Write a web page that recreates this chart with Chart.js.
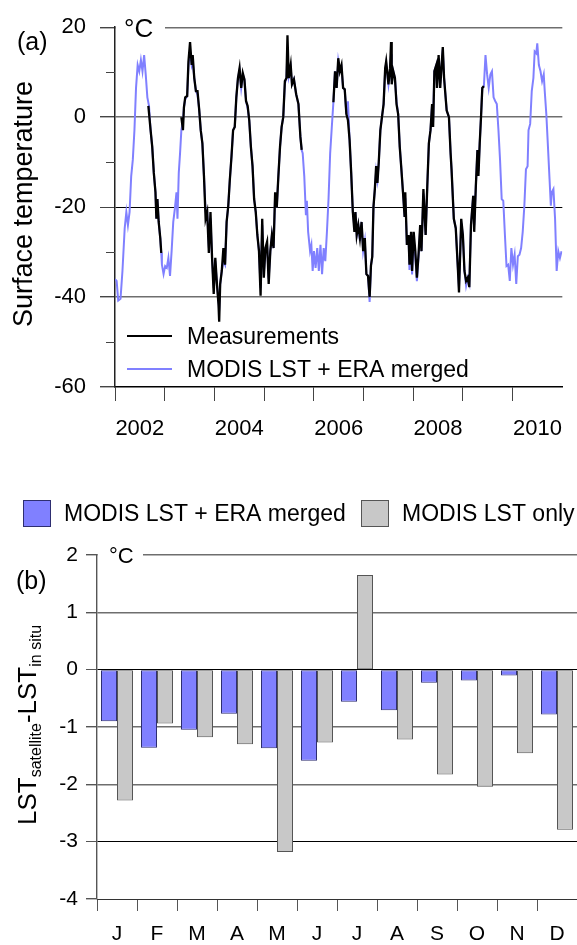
<!DOCTYPE html>
<html>
<head>
<meta charset="utf-8">
<script src="https://cdn.jsdelivr.net/npm/chart.js@4.4.1/dist/chart.umd.min.js"></script>
<style>
  body { margin: 0; background: #fff; }
  canvas { position: absolute; left: 0; }
  #tsChart { top: 0; }
  #barChart { top: 460px; }
</style>
</head>
<body>
<canvas id="tsChart" width="577" height="460"></canvas>
<canvas id="barChart" width="577" height="485"></canvas>
<script>
/* ── (a) surface temperature series, [decimal year, °C] ── */
const measured = [
  [2002.671, 2.5], [2002.716, -2.9], [2002.749, -6.6], [2002.781, -12.4], [2002.814, -16.7],
  [2002.833, -22.6], [2002.853, -18.2], [2002.879, -23.3], [2002.911, -26.9], [2002.931, -30.2],
  [2003.1, null],
  [2003.335, 0.0], [2003.367, -2.9], [2003.387, 2.2], [2003.413, 4.4], [2003.452, 4.7],
  [2003.478, 12.4], [2003.510, 16.7], [2003.543, 11.6], [2003.563, 13.8], [2003.595, 8.7],
  [2003.628, 5.8], [2003.660, 5.8], [2003.693, 1.8], [2003.725, -2.9], [2003.758, -5.8],
  [2003.790, -13.1], [2003.823, -22.6], [2003.855, -21.1], [2003.888, -30.2], [2003.921, -21.1],
  [2003.953, -31.3], [2003.986, -39.3], [2004.018, -31.3], [2004.051, -37.1], [2004.083, -41.8],
  [2004.096, -45.5], [2004.116, -37.1], [2004.148, -34.2], [2004.181, -29.1], [2004.214, -32.8],
  [2004.246, -23.3], [2004.279, -19.7], [2004.311, -13.8], [2004.344, -8.7], [2004.376, -2.9],
  [2004.409, -2.2], [2004.441, 4.4], [2004.474, 8.7], [2004.506, 10.9], [2004.539, 6.5],
  [2004.571, 9.8], [2004.604, 8.4], [2004.636, 3.6], [2004.669, 2.5], [2004.701, -0.7],
  [2004.734, -6.6], [2004.767, -10.9], [2004.799, -18.2], [2004.832, -21.1], [2004.864, -26.2],
  [2004.897, -29.8], [2004.929, -39.7], [2004.962, -22.6], [2004.994, -35.7], [2005.027, -29.1],
  [2005.060, -27.7], [2005.092, -37.1], [2005.125, -29.8], [2005.157, -26.2], [2005.190, -29.1],
  [2005.222, -16.7], [2005.255, -20.0], [2005.287, -13.1], [2005.320, -6.6], [2005.352, -2.2],
  [2005.385, 0.0], [2005.418, 8.0], [2005.450, 8.7], [2005.470, 18.2], [2005.496, 8.7],
  [2005.535, 11.6], [2005.561, 7.3], [2005.600, 8.4], [2005.645, 5.1], [2005.691, 2.9],
  [2005.730, -4.4], [2005.756, -7.3],
  [2006.05, null],
  [2006.394, 3.3], [2006.427, 10.2], [2006.459, 6.5], [2006.492, 13.1], [2006.524, 10.2],
  [2006.557, 11.6], [2006.589, 6.5], [2006.622, 6.2], [2006.655, 0.7], [2006.687, -0.7],
  [2006.720, -5.1], [2006.752, -12.4], [2006.785, -21.1], [2006.817, -25.5], [2006.837, -21.1],
  [2006.863, -26.2], [2006.895, -24.0], [2006.928, -26.9], [2006.961, -23.3], [2006.993, -29.8],
  [2007.026, -26.9], [2007.058, -34.9], [2007.091, -35.3], [2007.123, -40.0], [2007.150, -33.0],
  [2007.176, -31.0], [2007.200, -20.0], [2007.228, -16.0], [2007.254, -10.9], [2007.280, -14.6],
  [2007.306, -10.2], [2007.339, -2.9], [2007.371, 0.0], [2007.404, 2.9], [2007.436, 10.9],
  [2007.456, 12.4], [2007.502, 7.3], [2007.534, 10.9], [2007.554, 16.7], [2007.567, 7.3],
  [2007.599, 10.2], [2007.632, 8.7], [2007.664, 2.9], [2007.697, 0.7], [2007.729, -6.6],
  [2007.762, -11.6], [2007.794, -16.7], [2007.827, -22.2], [2007.840, -16.7], [2007.873, -28.4],
  [2007.905, -26.2], [2007.925, -32.8], [2007.957, -25.5], [2007.977, -34.2], [2008.009, -25.5],
  [2008.042, -29.8], [2008.074, -35.7], [2008.107, -30.5], [2008.140, -24.0], [2008.166, -29.8],
  [2008.205, -16.0], [2008.250, -26.2], [2008.283, -15.3], [2008.315, -5.8], [2008.348, -2.9],
  [2008.380, 2.9], [2008.400, -2.2], [2008.426, 10.2], [2008.465, 11.6], [2008.478, 6.5],
  [2008.511, 13.8], [2008.543, 6.5], [2008.595, 15.6], [2008.621, 8.7], [2008.673, 1.5],
  [2008.719, 0.0], [2008.752, -8.0], [2008.771, -11.6], [2008.817, -22.6], [2008.856, -24.7],
  [2008.901, -34.2], [2008.921, -39.0], [2008.966, -22.6], [2008.999, -26.2], [2009.031, -34.2],
  [2009.064, -36.4], [2009.097, -35.7], [2009.129, -37.8], [2009.162, -24.0], [2009.207, -17.5],
  [2009.227, -25.5], [2009.260, -15.3], [2009.292, -7.3], [2009.312, -13.1], [2009.338, -5.8],
  [2009.364, 0.0], [2009.390, 6.5], [2009.422, 6.9]
];

const merged = [
  [2002.000, -36.0], [2002.033, -36.4], [2002.065, -40.8], [2002.111, -40.4], [2002.150, -34.2],
  [2002.195, -24.7], [2002.228, -21.1], [2002.260, -24.0], [2002.293, -21.1], [2002.326, -13.1],
  [2002.358, -9.5], [2002.391, -2.9], [2002.423, 6.5], [2002.456, 11.6], [2002.488, 10.2],
  [2002.521, 12.7], [2002.553, 10.2], [2002.586, 13.8], [2002.618, 9.5], [2002.651, 4.4],
  [2002.684, 2.5], [2002.716, -2.9], [2002.749, -6.6], [2002.781, -12.4], [2002.814, -16.7],
  [2002.833, -22.6], [2002.853, -18.2], [2002.879, -23.3], [2002.911, -26.9], [2002.931, -30.2],
  [2002.944, -32.8], [2002.977, -34.9], [2003.009, -33.1], [2003.042, -33.5], [2003.074, -31.3],
  [2003.107, -35.3], [2003.139, -29.8], [2003.172, -23.3], [2003.204, -20.4], [2003.237, -16.7],
  [2003.257, -22.6], [2003.283, -12.4], [2003.309, -8.0], [2003.335, -2.9],
  [2003.367, -1.0], [2003.387, 2.2], [2003.413, 4.0], [2003.452, 4.7], [2003.478, 11.5],
  [2003.510, 14.5], [2003.543, 11.6], [2003.563, 12.5], [2003.595, 8.7], [2003.628, 5.8],
  [2003.660, 5.0], [2003.693, 1.8], [2003.725, -2.9], [2003.758, -5.8], [2003.790, -13.1],
  [2003.823, -21.0], [2003.855, -21.1], [2003.888, -29.0], [2003.921, -22.5], [2003.953, -31.3],
  [2003.986, -38.0], [2004.018, -32.0], [2004.051, -37.1], [2004.083, -41.0], [2004.096, -43.0],
  [2004.116, -37.1], [2004.148, -34.2], [2004.181, -32.0], [2004.214, -32.8], [2004.246, -23.3],
  [2004.279, -19.7], [2004.311, -13.8], [2004.344, -8.7], [2004.376, -2.9], [2004.409, -2.2],
  [2004.441, 4.4], [2004.474, 8.7], [2004.506, 10.5], [2004.539, 6.5], [2004.571, 9.5],
  [2004.604, 8.4], [2004.636, 3.6], [2004.669, 2.0], [2004.701, -0.7], [2004.734, -6.6],
  [2004.767, -10.9], [2004.799, -18.2], [2004.832, -21.1], [2004.864, -26.2], [2004.897, -29.8],
  [2004.929, -38.0], [2004.962, -24.0], [2004.994, -35.0], [2005.027, -29.1], [2005.060, -28.5],
  [2005.092, -36.0], [2005.125, -29.8], [2005.157, -26.2], [2005.190, -29.1], [2005.222, -17.5],
  [2005.255, -20.0], [2005.287, -13.1], [2005.320, -6.6], [2005.352, -2.2], [2005.385, 0.0],
  [2005.418, 7.5], [2005.450, 8.7], [2005.470, 15.0], [2005.496, 9.0], [2005.535, 11.0],
  [2005.561, 7.3], [2005.600, 8.4], [2005.645, 5.1], [2005.691, 2.9], [2005.730, -4.4],
  [2005.756, -7.3], [2005.776, -8.0], [2005.808, -13.1], [2005.841, -21.8], [2005.860, -18.6],
  [2005.886, -25.5], [2005.925, -29.8], [2005.951, -28.4], [2005.977, -34.2], [2006.003, -29.8],
  [2006.036, -33.5], [2006.069, -29.1], [2006.101, -34.2], [2006.134, -28.4], [2006.166, -34.9],
  [2006.199, -29.1], [2006.231, -32.0], [2006.264, -25.5], [2006.296, -18.2], [2006.329, -8.0],
  [2006.362, -2.2], [2006.394, 3.3],
  [2006.427, 10.2], [2006.459, 6.5], [2006.492, 12.5], [2006.524, 10.2], [2006.557, 11.0],
  [2006.589, 6.5], [2006.622, 6.2], [2006.655, 0.7], [2006.687, 3.5], [2006.720, -5.1],
  [2006.752, -12.4], [2006.785, -21.1], [2006.817, -24.5], [2006.837, -21.1], [2006.863, -26.2],
  [2006.895, -24.0], [2006.928, -27.5], [2006.961, -23.3], [2006.993, -29.8], [2007.026, -27.5],
  [2007.058, -34.9], [2007.091, -35.3], [2007.123, -41.1], [2007.150, -33.0], [2007.176, -31.0],
  [2007.200, -20.0], [2007.228, -16.0], [2007.254, -12.0], [2007.280, -14.0], [2007.306, -10.2],
  [2007.339, -2.9], [2007.371, 0.0], [2007.404, 2.9], [2007.436, 10.5], [2007.456, 12.0],
  [2007.502, 7.3], [2007.534, 10.5], [2007.554, 14.0], [2007.567, 8.0], [2007.599, 10.2],
  [2007.632, 8.7], [2007.664, 3.5], [2007.697, 0.7], [2007.729, -6.6], [2007.762, -11.6],
  [2007.794, -16.7], [2007.827, -22.2], [2007.840, -18.0], [2007.873, -28.4], [2007.905, -26.2],
  [2007.925, -34.0], [2007.957, -27.0], [2007.977, -35.0], [2008.009, -27.0], [2008.042, -31.0],
  [2008.074, -36.5], [2008.107, -31.0], [2008.140, -25.0], [2008.166, -29.8], [2008.205, -17.0],
  [2008.250, -26.2], [2008.283, -15.3], [2008.315, -5.8], [2008.348, -2.9], [2008.380, 2.9],
  [2008.400, -1.0], [2008.426, 10.2], [2008.465, 11.6], [2008.478, 7.5], [2008.511, 13.0],
  [2008.543, 7.5], [2008.595, 15.0], [2008.621, 8.7], [2008.673, 1.5], [2008.719, 0.0],
  [2008.752, -8.0], [2008.771, -11.6], [2008.817, -22.6], [2008.856, -24.7], [2008.901, -34.2],
  [2008.921, -38.0], [2008.966, -23.5], [2008.999, -26.2], [2009.031, -34.2], [2009.064, -37.5],
  [2009.097, -35.7], [2009.129, -37.0], [2009.162, -24.0], [2009.207, -17.5], [2009.227, -24.0],
  [2009.260, -15.3], [2009.292, -7.3], [2009.312, -12.0], [2009.338, -5.8], [2009.364, 0.0],
  [2009.390, 6.5], [2009.422, 6.9],
  [2009.454, 13.8], [2009.487, 9.5], [2009.519, 6.5], [2009.552, 9.5], [2009.584, 10.2],
  [2009.617, 4.4], [2009.649, 3.6], [2009.682, 2.9], [2009.715, -2.9], [2009.747, -9.5],
  [2009.780, -18.2], [2009.812, -18.6], [2009.845, -26.2], [2009.877, -33.1], [2009.910, -32.8],
  [2009.943, -36.4], [2009.975, -29.1], [2010.008, -32.8], [2010.040, -30.6], [2010.073, -37.1],
  [2010.105, -30.9], [2010.138, -30.6], [2010.171, -29.1], [2010.203, -25.5], [2010.236, -19.7],
  [2010.268, -11.6], [2010.301, -10.9], [2010.320, -2.9], [2010.353, -1.5], [2010.385, 5.8],
  [2010.418, 8.7], [2010.444, 14.6], [2010.476, 14.2], [2010.496, 16.4], [2010.528, 11.6],
  [2010.561, 10.2], [2010.593, 8.0], [2010.626, 9.5], [2010.646, 5.8], [2010.678, 0.7],
  [2010.711, -6.6], [2010.743, -13.8], [2010.769, -19.7], [2010.789, -16.7], [2010.821, -16.0],
  [2010.854, -22.6], [2010.886, -34.2], [2010.919, -29.8], [2010.952, -31.3], [2010.984, -29.8]
];

// tick marks at each new year, labels centred in every other year
const yearTicks = [2002, 2003, 2004, 2005, 2006, 2007, 2008, 2009, 2010];
const yearLabelPos = [2002.5, 2004.5, 2006.5, 2008.5, 2010.5];
const tempMinorTicks = [10, -10, -30, -50];

/* ── (b) monthly bias, °C ── */
const months = ['J', 'F', 'M', 'A', 'M', 'J', 'J', 'A', 'S', 'O', 'N', 'D'];
const mergedBias = [-0.90, -1.36, -1.05, -0.77, -1.37, -1.59, -0.56, -0.71, -0.23, -0.19, -0.10, -0.78];
const lstOnlyBias = [-2.28, -0.94, -1.18, -1.30, -3.18, -1.27, 1.65, -1.22, -1.83, -2.04, -1.46, -2.79];

const FONT = "'Liberation Sans', Arial, sans-serif";
Chart.defaults.font.family = FONT;
Chart.defaults.color = '#000';

const GRID_GREY = '#6e6e6e';

const tsDecor = {
  id: 'tsDecor',
  afterDraw(chart) {
    const { ctx, scales: { x, y } } = chart;
    ctx.save();
    // short ticks between the labelled ones
    ctx.strokeStyle = '#444';
    ctx.lineWidth = 1;
    tempMinorTicks.forEach(v => {
      const py = Math.round(y.getPixelForValue(v)) + 0.5;
      ctx.beginPath();
      ctx.moveTo(x.left - 9, py);
      ctx.lineTo(x.left, py);
      ctx.stroke();
    });
    // unit label sits in a gap of the top grid line
    const top = y.getPixelForValue(20);
    ctx.fillStyle = '#fff';
    ctx.fillRect(x.left + 1, top - 3, 49, 6);
    ctx.fillStyle = '#000';
    ctx.textAlign = 'left';
    ctx.textBaseline = 'alphabetic';
    ctx.font = `26px ${FONT}`;
    ctx.fillText('°C', x.left + 9, top + 9.5);
    ctx.font = `25px ${FONT}`;
    ctx.fillText('(a)', 17, 50);

    // legend inside the plot
    const items = [chart.data.datasets[0], chart.data.datasets[1]];
    ctx.font = `23px ${FONT}`;
    items.forEach((ds, i) => {
      const ly = 336 + i * 33;
      ctx.strokeStyle = ds.borderColor;
      ctx.lineWidth = 2;
      ctx.beginPath();
      ctx.moveTo(127, ly);
      ctx.lineTo(172, ly);
      ctx.stroke();
      ctx.fillText(ds.label, 187, ly + 8);
    });

    ctx.translate(32, 204);
    ctx.rotate(-Math.PI / 2);
    ctx.textAlign = 'center';
    ctx.font = `27px ${FONT}`;
    ctx.fillText('Surface temperature', 0, 0);
    ctx.restore();
  }
};

new Chart(document.getElementById('tsChart'), {
  type: 'line',
  data: {
    datasets: [
      {
        label: 'Measurements',
        data: measured.map(([x, y]) => ({ x, y })),
        borderColor: '#000',
        borderWidth: 2.3,
        pointRadius: 0,
        tension: 0,
        spanGaps: false,
      },
      {
        label: 'MODIS LST + ERA merged',
        data: merged.map(([x, y]) => ({ x, y })),
        borderColor: '#8080ff',
        borderWidth: 2,
        pointRadius: 0,
        tension: 0,
      },
    ],
  },
  options: {
    responsive: false,
    animation: false,
    layout: { padding: { top: 20, right: 1, left: 0, bottom: 0 } },
    plugins: { legend: { display: false }, tooltip: { enabled: false } },
    scales: {
      x: {
        type: 'linear',
        min: 2002,
        max: 2011,
        afterBuildTicks: s => {
          s.ticks = [...yearTicks, ...yearLabelPos].sort((a, b) => a - b).map(v => ({ value: v }));
        },
        afterFit: s => { s.height = 73; },
        grid: {
          drawOnChartArea: false,
          tickLength: 14,
          tickWidth: 1,
          tickColor: c => (Number.isInteger(c.tick.value) ? '#444' : 'rgba(0,0,0,0)'),
        },
        border: { color: '#000', width: 1.5 },
        ticks: {
          font: { size: 22 },
          padding: 15,
          autoSkip: false,
          maxRotation: 0,
          callback: v => (yearLabelPos.includes(v) ? String(Math.floor(v)) : ''),
        },
      },
      y: {
        min: -60,
        max: 20,
        afterFit: s => { s.width = 115; },
        ticks: { stepSize: 20, font: { size: 22 }, padding: 14 },
        grid: {
          tickLength: 15,
          tickColor: '#444',
          color: c => (c.tick.value === -60 ? 'rgba(0,0,0,0)' : c.tick.value === -20 ? '#000' : GRID_GREY),
          lineWidth: c => (c.tick.value === -20 ? 1 : 1.4),
        },
        border: { color: '#222', width: 1.5 },
      },
    },
  },
  plugins: [tsDecor],
});

const barDecor = {
  id: 'barDecor',
  afterDraw(chart) {
    const { ctx, scales: { x, y } } = chart;
    ctx.save();
    const top = y.getPixelForValue(2);
    ctx.fillStyle = '#fff';
    ctx.fillRect(x.left + 1, top - 3, 45, 6);
    ctx.fillStyle = '#000';
    ctx.textBaseline = 'alphabetic';
    ctx.textAlign = 'left';
    ctx.font = `22px ${FONT}`;
    ctx.fillText('°C', x.left + 12, top + 8);
    ctx.font = `25px ${FONT}`;
    ctx.fillText('(b)', 16, 129);

    // legend above the plot
    ctx.font = `23px ${FONT}`;
    const boxes = [23, 361];
    chart.data.datasets.forEach((ds, i) => {
      const bx = boxes[i];
      ctx.fillStyle = ds.backgroundColor;
      ctx.fillRect(bx, 40, 27, 26);
      ctx.strokeStyle = ds.borderColor;
      ctx.lineWidth = 1;
      ctx.strokeRect(bx + 0.5, 40.5, 27, 26);
      ctx.fillStyle = '#000';
      ctx.fillText(ds.label, bx + 41, 61);
    });

    // y title with subscripts
    const parts = [
      ['LST', 26, 0], ['satellite', 16, 5], ['-LST', 26, 0], ['in situ', 16, 5],
    ];
    let total = 0;
    parts.forEach(([t, s]) => { ctx.font = `${s}px ${FONT}`; total += ctx.measureText(t).width; });
    ctx.translate(36, 265);
    ctx.rotate(-Math.PI / 2);
    let lx = -total / 2;
    parts.forEach(([t, s, dy]) => {
      ctx.font = `${s}px ${FONT}`;
      ctx.fillText(t, lx, dy);
      lx += ctx.measureText(t).width;
    });
    ctx.restore();
  }
};

new Chart(document.getElementById('barChart'), {
  type: 'bar',
  data: {
    labels: months,
    datasets: [
      {
        label: 'MODIS LST + ERA merged',
        data: mergedBias,
        backgroundColor: '#8080ff',
        borderColor: '#2e2e70',
        borderWidth: 1,
        borderSkipped: false,
        categoryPercentage: 0.8,
        barPercentage: 1.0,
      },
      {
        label: 'MODIS LST only',
        data: lstOnlyBias,
        backgroundColor: '#c8c8c8',
        borderColor: '#555',
        borderWidth: 1,
        borderSkipped: false,
        categoryPercentage: 0.8,
        barPercentage: 1.0,
      },
    ],
  },
  options: {
    responsive: false,
    animation: false,
    layout: { padding: { top: 95, right: 0, left: 0, bottom: 0 } },
    plugins: { legend: { display: false }, tooltip: { enabled: false } },
    scales: {
      x: {
        afterFit: s => { s.height = 46; },
        grid: { drawOnChartArea: false, tickLength: 12, tickColor: '#555', offset: true },
        border: { color: '#333', width: 1 },
        ticks: { font: { size: 21 }, padding: 11 },
      },
      y: {
        min: -4,
        max: 2,
        afterFit: s => { s.width = 97; },
        ticks: { stepSize: 1, font: { size: 21 }, padding: 8 },
        grid: {
          tickLength: 11,
          tickColor: '#555',
          color: c => (c.tick.value === -4 ? 'rgba(0,0,0,0)' : (c.tick.value === 0 || c.tick.value === -3) ? '#000' : GRID_GREY),
          lineWidth: c => ((c.tick.value === 0 || c.tick.value === -3) ? 1 : 1.4),
        },
        border: { color: '#555', width: 1.4 },
      },
    },
  },
  plugins: [barDecor],
});
</script>
</body>
</html>
